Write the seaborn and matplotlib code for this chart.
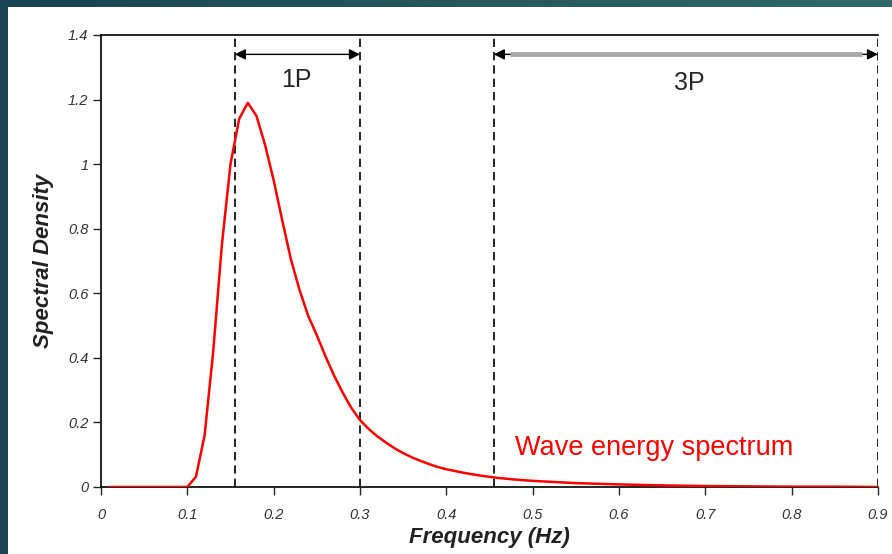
import numpy as np
import seaborn as sns
import matplotlib.pyplot as plt
from matplotlib.patches import Rectangle
from matplotlib.colors import LinearSegmentedColormap

# spectrum
freq = [0.01, 0.10, 0.11, 0.12, 0.13, 0.14, 0.15, 0.16, 0.17, 0.18, 0.19,
        0.20, 0.21, 0.22, 0.23, 0.24, 0.25, 0.26, 0.27, 0.28, 0.29, 0.30,
        0.31, 0.32, 0.33, 0.34, 0.35, 0.36, 0.37, 0.38, 0.39, 0.40, 0.42,
        0.44, 0.46, 0.48, 0.50, 0.55, 0.60, 0.65, 0.70, 0.75, 0.80, 0.85, 0.90]
density = [0.0, 0.0, 0.032, 0.16, 0.42, 0.75, 1.00, 1.14, 1.19, 1.15, 1.06,
           0.95, 0.825, 0.705, 0.61, 0.53, 0.47, 0.405, 0.345, 0.292, 0.245, 0.207,
           0.18, 0.157, 0.138, 0.12, 0.105, 0.092, 0.081, 0.071, 0.062, 0.055, 0.044,
           0.035, 0.028, 0.023, 0.019, 0.012, 0.008, 0.005, 0.003, 0.002, 0.001, 0.001, 0.0]

band_1p = (0.155, 0.30)
band_3p = (0.455, 0.90)
xticks = [0, 0.1, 0.2, 0.3, 0.4, 0.5, 0.6, 0.7, 0.8, 0.9]
xtick_labels = ['0', '0.1', '0.2', '0.3', '0.4', '0.5', '0.6', '0.7', '0.8', '0.9']
yticks = [0, 0.2, 0.4, 0.6, 0.8, 1.0, 1.2, 1.4]
ytick_labels = ['0', '0.2', '0.4', '0.6', '0.8', '1', '1.2', '1.4']

sns.set_style('white')
plt.rcParams['font.family'] = ['Liberation Sans', 'DejaVu Sans']

fig = plt.figure(figsize=(8.92, 5.54), dpi=100)

# slide background: teal gradient with white panel
bg = fig.add_axes([0, 0, 1, 1], zorder=-2)
cmap = LinearSegmentedColormap.from_list('slide', ['#1a4354', '#2f6a68'])
bg.imshow(np.linspace(0, 1, 256).reshape(1, -1), aspect='auto', cmap=cmap,
          extent=[0, 1, 0, 1])
bg.axis('off')
fig.patches.append(Rectangle((8 / 892, 0), 1, (554 - 7) / 554,
                             transform=fig.transFigure, facecolor='white',
                             edgecolor='none', zorder=-1))

ax = fig.add_axes([101 / 892, 67 / 554, 777 / 892, 452 / 554])
ax.set_facecolor('none')

sns.lineplot(x=freq, y=density, ax=ax, color='red', linewidth=1.8, zorder=3)

for xv in [band_1p[0], band_1p[1], band_3p[0], band_3p[1]]:
    ax.axvline(xv, color='black', linewidth=1.2, dashes=(5, 3), zorder=2)

# 1P arrow
ax.annotate('', xy=(band_1p[0], 1.34), xytext=(band_1p[1], 1.34),
            arrowprops=dict(arrowstyle='<|-|>', color='black', lw=1,
                            mutation_scale=16, shrinkA=0, shrinkB=0))
ax.text(0.226, 1.26, '1P', fontsize=18, ha='center', va='center')

# 3P arrow: grey shaft, black heads
ax.annotate('', xy=(band_3p[0], 1.34), xytext=(band_3p[1], 1.34),
            arrowprops=dict(arrowstyle='<|-|>', color='black', lw=1,
                            mutation_scale=16, shrinkA=0, shrinkB=0))
ax.plot([band_3p[0] + 0.019, band_3p[1] - 0.019], [1.34, 1.34],
        color='#a8a8a8', linewidth=3.5, solid_capstyle='butt', zorder=4)
ax.text(0.682, 1.25, '3P', fontsize=18, ha='center', va='center')

ax.text(0.48, 0.12, 'Wave energy spectrum', color='red', fontsize=19.5,
        ha='left', va='center')

ax.set_xlim(0, 0.9)
ax.set_ylim(0, 1.4)
ax.set_xticks(xticks)
ax.set_xticklabels(xtick_labels, fontstyle='italic', fontsize=10.5, color='#333333')
ax.set_yticks(yticks)
ax.set_yticklabels(ytick_labels, fontstyle='italic', fontsize=10.5, color='#333333')
ax.tick_params(axis='x', direction='out', length=6, width=1, pad=9, bottom=True)
ax.tick_params(axis='y', direction='out', length=6, width=1, pad=3, left=True)

ax.set_xlabel('Frequency (Hz)', fontsize=16, fontweight='bold', fontstyle='italic',
              color='#222222', labelpad=4)
ax.set_ylabel('Spectral Density', fontsize=16, fontweight='bold', fontstyle='italic',
              color='#222222', labelpad=10)

for side in ['left', 'bottom', 'top']:
    ax.spines[side].set_color('black')
    ax.spines[side].set_linewidth(1.2)
ax.spines['right'].set_visible(False)

fig.savefig('out.png', dpi=100)
